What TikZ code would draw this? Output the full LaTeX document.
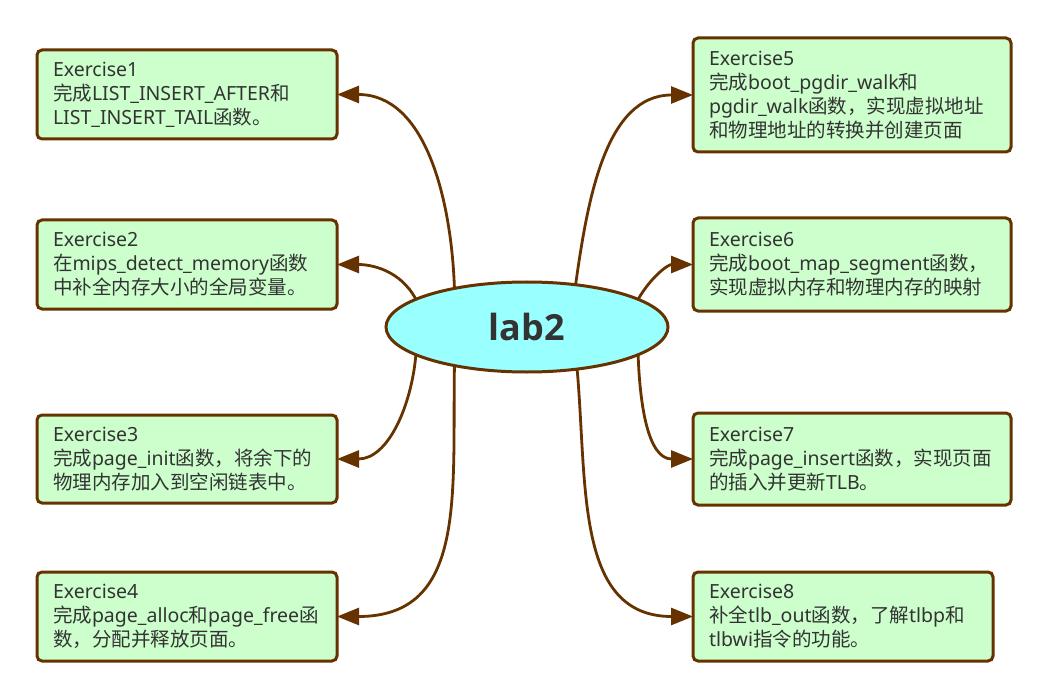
\documentclass[tikz,border=0pt]{standalone}
\usepackage{fontspec}
\setmainfont{Noto Sans}
\newfontfamily\cjk{Noto Sans CJK SC}
\newfontfamily\hubfont{Open Sans}
\usetikzlibrary{arrows.meta,shapes.geometric}
\definecolor{brn}{HTML}{663300}
\definecolor{boxg}{HTML}{CCFFCC}
\definecolor{cyn}{HTML}{99FFFF}
\definecolor{txt}{HTML}{333333}
\newcommand\zh[1]{{\cjk #1}}
\begin{document}
\begin{tikzpicture}[x=1pt,y=1pt,
  exbox/.style={draw=brn, fill=boxg, line width=3pt, rounded corners=5pt, text=txt,
    font=\fontsize{19.5}{24}\selectfont, align=left, inner xsep=16pt, inner ysep=0pt,
    outer sep=0pt, anchor=center},
  link/.style={draw=brn, line width=2.8pt, -{Triangle[length=22pt,width=17pt]}},
  hub/.style={ellipse, draw=brn, fill=cyn, line width=3pt, minimum width=282pt,
    minimum height=90pt, inner sep=0pt, outer sep=0pt, text=txt,
    font=\hubfont\bfseries\fontsize{36}{40}\selectfont}
]
\useasboundingbox (0,0) rectangle (1048,697);
\node[hub] (c) at (527,370) {lab2};

\node[exbox,text width=268pt,minimum height=89pt] (b1) at (187,602.5)
  {Exercise1\\\zh{完成}LIST\_INSERT\_AFTER\zh{和}\\LIST\_INSERT\_TAIL\zh{函数。}};
\node[exbox,text width=268pt,minimum height=89pt] (b2) at (187,432.5)
  {Exercise2\\\zh{在}mips\_detect\_memory\zh{函数}\\\zh{中补全内存大小的全局变量。}};
\node[exbox,text width=268pt,minimum height=88pt] (b3) at (187,238)
  {Exercise3\\\zh{完成}page\_init\zh{函数，将余下的}\\\zh{物理内存加入到空闲链表中。}};
\node[exbox,text width=268pt,minimum height=89pt] (b4) at (187,80.5)
  {Exercise4\\\zh{完成}page\_alloc\zh{和}page\_free\zh{函}\\\zh{数，分配并释放页面。}};

\node[exbox,text width=286pt,minimum height=114pt] (b5) at (852,602)
  {Exercise5\\\zh{完成}boot\_pgdir\_walk\zh{和}\\pgdir\_walk\zh{函数，实现虚拟地址}\\\zh{和物理地址的转换并创建页面}};
\node[exbox,text width=286pt,minimum height=93pt] (b6) at (852,432.5)
  {Exercise6\\\zh{完成}boot\_map\_segment\zh{函数，}\\\zh{实现虚拟内存和物理内存的映射}};
\node[exbox,text width=286pt,minimum height=92pt] (b7) at (852,238)
  {Exercise7\\\zh{完成}page\_insert\zh{函数，实现页面}\\\zh{的插入并更新}TLB\zh{。}};
\node[exbox,text width=268pt,minimum height=89pt] (b8) at (843,80.5)
  {Exercise8\\\zh{补全}tlb\_out\zh{函数，了解}tlbp\zh{和}\\tlbwi\zh{指令的功能。}};

\draw[link] (c.152) to[out=92,in=0] (b1.east);
\draw[link] (c.166) to[out=118,in=0] (b2.east);
\draw[link] (c.194) to[out=-95,in=0] (b3.east);
\draw[link] (c.208) to[out=-91,in=0,looseness=1.2] (b4.east);
\draw[link] (c.41) to[out=82,in=180] (b5.west);
\draw[link] (c.14) to[out=60,in=180] (b6.west);
\draw[link] (c.-14) to[out=-88,in=180] (b7.west);
\draw[link] (c.-40) to[out=-85,in=180,looseness=1.1] (b8.west);
\end{tikzpicture}
\end{document}
